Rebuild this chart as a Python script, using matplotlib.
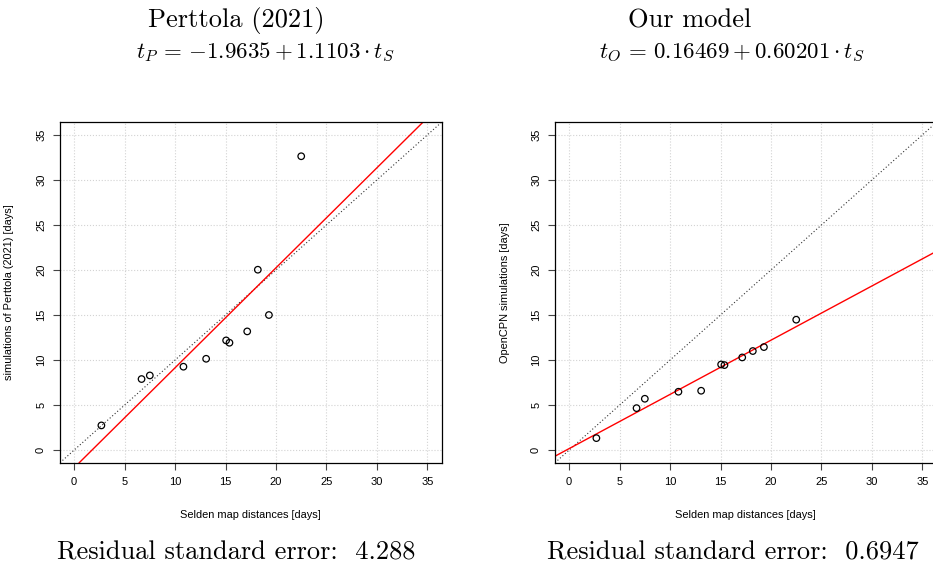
import numpy as np
import matplotlib
matplotlib.use("Agg")
import matplotlib.pyplot as plt

# Selden map distances and simulated passage times [days]
selden = [2.7, 6.68, 7.5, 10.83, 13.08, 15.06, 15.39, 17.15, 18.2, 19.3, 22.5]
perttola = [2.74, 7.89, 8.29, 9.26, 10.14, 12.18, 11.92, 13.18, 20.03, 15.0, 32.63]
opencpn = [1.33, 4.66, 5.70, 6.48, 6.59, 9.51, 9.44, 10.29, 11.0, 11.44, 14.48]

# regression coefficients (intercept, slope)
fit_perttola = (-1.9635, 1.1103)
fit_ours = (0.16469, 0.60201)
rse = ["4.288", "0.6947"]

ticks = [0, 5, 10, 15, 20, 25, 30, 35]

plt.rcParams['mathtext.fontset'] = 'cm'
plt.rcParams['font.family'] = ['Liberation Sans', 'DejaVu Sans']

W, H = 933, 566
fig = plt.figure(figsize=(W / 100, H / 100), dpi=100)


def panel(left, ydata, fit, ylabel, label_x):
    ax = fig.add_axes([left / W, (H - 462.7) / H, 381.5 / W, 340.4 / H])
    lim = (-1.4, 36.4)
    ax.set_xlim(lim)
    ax.set_ylim(lim)
    ax.set_xticks(ticks)
    ax.set_yticks(ticks)
    ax.grid(True, color='#d3d3d3', linestyle=':', linewidth=0.8)
    ax.set_axisbelow(True)
    ax.axline((0, 0), slope=1, color='#333333', linestyle=(0, (1, 2)), linewidth=0.8)
    ax.axline((0, fit[0]), slope=fit[1], color='red', linewidth=1.0)
    ax.scatter(selden, ydata, s=22, facecolors='none', edgecolors='black', linewidths=0.9, zorder=3)
    ax.tick_params(labelsize=8, length=5, width=0.8, pad=5, color='#444444')
    for lbl in ax.get_yticklabels():
        lbl.set_rotation(90)
        lbl.set_va('center')
    for sp in ax.spines.values():
        sp.set_linewidth(0.9)
    ax.set_xlabel('Selden map distances [days]', fontsize=7.9)
    ax.xaxis.set_label_coords(0.5, -(510 - 462.7) / 340.4)
    ax.set_ylabel(ylabel, fontsize=7.9)
    ax.yaxis.set_label_coords(-(left - label_x) / 381.5, 0.5)
    return ax


panel(60, perttola, fit_perttola, 'simulations of Perttola (2021) [days]', 14)
panel(555, opencpn, fit_ours, 'OpenCPN simulations [days]', 510)


def num(v, nd):
    s = '%.*f' % (nd, abs(v))
    return '{-}' + s if v < 0 else s


fs = 19
rm = dict(family='cmr10', fontsize=fs, ha='center', va='baseline')
eq = dict(fontsize=16.5, ha='center', va='baseline')
fig.text(236 / W, 1 - 27 / H, 'Perttola (2021)', **rm)
fig.text(265 / W, 1 - 58 / H, r'$t_P\,=\,%s + %s \cdot t_S$'
         % (num(fit_perttola[0], 4), num(fit_perttola[1], 4)), **eq)
fig.text(690 / W, 1 - 27 / H, 'Our model', **rm)
fig.text(732 / W, 1 - 58 / H, r'$t_O\,=\,%s + %s \cdot t_S$'
         % (num(fit_ours[0], 5), num(fit_ours[1], 5)), **eq)
fig.text(236 / W, 1 - 560 / H, 'Residual standard error:  %s' % rse[0], **rm)
fig.text(733 / W, 1 - 560 / H, 'Residual standard error:  %s' % rse[1], **rm)

fig.savefig('out.png', dpi=100)
